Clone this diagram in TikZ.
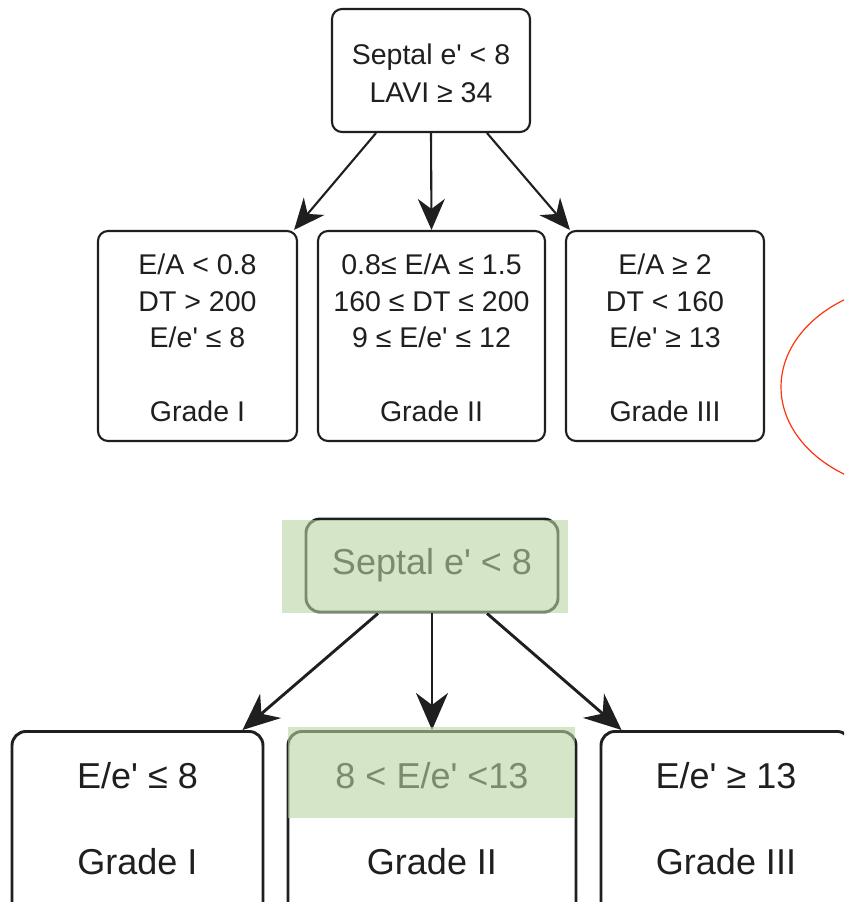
\documentclass[tikz,border=0pt]{standalone}
\usepackage{fontspec}
\setmainfont{Liberation Sans}
\usetikzlibrary{arrows.meta,positioning}

\definecolor{inkgray}{HTML}{1F1F1F}
\definecolor{markgreen}{RGB}{185,213,163}
\definecolor{penred}{HTML}{FF3311}
\newcommand{\q}{\textquotesingle}

\begin{document}
\begin{tikzpicture}[
      x=1pt, y=-1pt,
      box/.style={draw=inkgray,line width=2.1pt,rounded corners=10pt,inner sep=0pt},
      boxtext/.style={align=center,text=inkgray,inner sep=0pt,font=\fontsize{28.5}{36.5}\selectfont},
      bigbox/.style={draw=inkgray,line width=2.9pt,rounded corners=14pt,inner sep=0pt,
        text=inkgray,font=\fontsize{36}{44}\selectfont},
      bigtext/.style={text=inkgray,inner sep=0pt,font=\fontsize{36}{44}\selectfont},
      link/.style={draw=inkgray,line width=2.1pt,-{Stealth[length=31pt,width=27pt,inset=10pt]}},
      biglink/.style={draw=inkgray,line width=2.9pt,-{Stealth[length=37pt,width=32pt,inset=12pt]}},
      marker/.style={fill=markgreen,fill opacity=0.6,draw=none}
    ]
    \useasboundingbox (0,0) rectangle (844,902);
    \fill[white] (0,0) rectangle (844,902);
    \clip (0,0) rectangle (844,902);
    % Upper tree.
    \node[box,minimum width=198,minimum height=123] (gate) at (431,70.5) {};
    \node[boxtext,font=\fontsize{28.5}{38}\selectfont] (gatetext) at (431,73.5)
      {Septal e\q{} < 8\\LAVI ≥ 34};
    \node[box,minimum width=199,minimum height=210] (gradeI) at (197.5,336) {};
    \node[box,minimum width=227,minimum height=210] (gradeII) at (431.5,336) {};
    \node[box,minimum width=198,minimum height=210] (gradeIII) at (665,336) {};
    \node[boxtext] (gradeItext) at (197.5,338)
      {E/A < 0.8\\DT > 200\\E/e\q{} ≤ 8\\[37.5pt]Grade I};
    \node[boxtext] (gradeIItext) at (431.5,338)
      {0.8≤ E/A ≤ 1.5\\160 ≤ DT ≤ 200\\9 ≤ E/e\q{} ≤ 12\\[37.5pt]Grade II};
    \node[boxtext] (gradeIIItext) at (665,338)
      {E/A ≥ 2\\DT < 160\\E/e\q{} ≥ 13\\[37.5pt]Grade III};
    \draw[link] ([xshift=-55pt]gate.south) -- ([xshift=-4pt]gradeI.north east);
    \draw[link] (gate.south) -- (gradeII.north);
    \draw[link] ([xshift=56pt]gate.south) -- ([xshift=5pt]gradeIII.north west);
    % Red margin mark.
    \draw[penred,line width=1.2pt] (920,387) ellipse [x radius=139,y radius=104];
    % Lower tree.
    \node[bigbox,minimum width=252,minimum height=93] (gateB) at (432,565.5) {Septal e\q{} < 8};
    \node[bigbox,anchor=north,minimum width=251,minimum height=200] (lowI) at (137.5,730) {};
    \node[bigbox,anchor=north,minimum width=288,minimum height=200] (lowII) at (432,730) {};
    \node[bigbox,anchor=north,minimum width=250,minimum height=200] (lowIII) at (726,730) {};
    \node[bigtext] (lowIrule) at (137.5,776) {E/e\q{} ≤ 8};
    \node[bigtext] (lowIname) at (137.5,862) {Grade I};
    \node[bigtext] (lowIIrule) at (432,776) {8 < E/e\q{} <13};
    \node[bigtext] (lowIIname) at (432,862) {Grade II};
    \node[bigtext] (lowIIIrule) at (726,776) {E/e\q{} ≥ 13};
    \node[bigtext] (lowIIIname) at (726,862) {Grade III};
    \draw[biglink] ([xshift=-54pt]gateB.south) -- ([xshift=-22pt]lowI.north east);
    \draw[biglink] (gateB.south) -- (lowII.north);
    \draw[biglink] ([xshift=55pt]gateB.south) -- ([xshift=22pt]lowIII.north west);
    % Highlights.
    \fill[marker] (282,520) rectangle (568,613);
    \fill[marker] (288,727) rectangle (575,818);
\end{tikzpicture}
\end{document}
